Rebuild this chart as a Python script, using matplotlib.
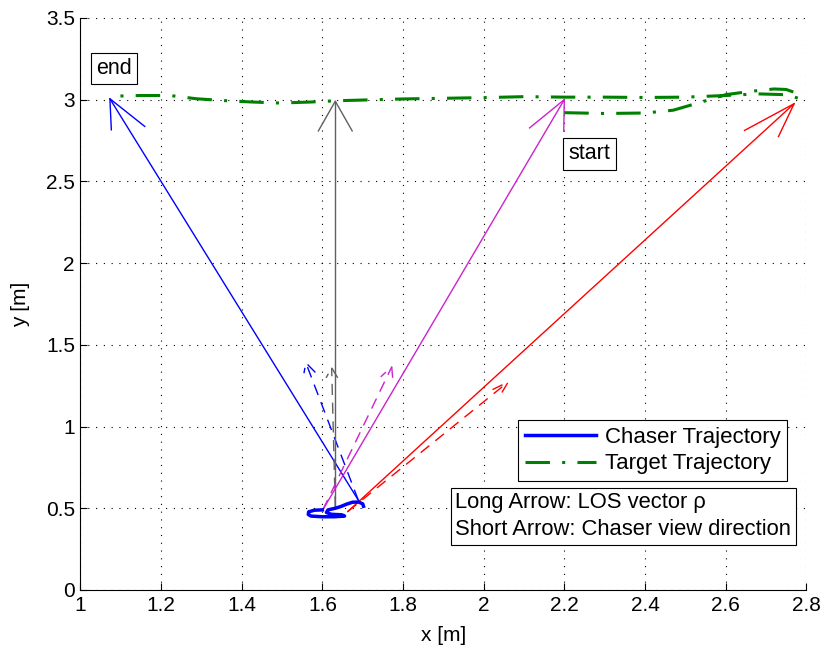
import numpy as np
import matplotlib
matplotlib.use("Agg")
import matplotlib.pyplot as plt

plt.rcParams['font.family'] = ['Liberation Sans', 'DejaVu Sans']

# Chaser trajectory
chaser_x = [1.600, 1.580, 1.566, 1.565, 1.572, 1.600, 1.630, 1.655, 1.648, 1.622, 1.610,
            1.614, 1.632, 1.645, 1.660, 1.675, 1.690, 1.700, 1.702]
chaser_y = [0.490, 0.488, 0.478, 0.462, 0.452, 0.448, 0.448, 0.452, 0.460, 0.463, 0.474,
            0.490, 0.500, 0.510, 0.525, 0.537, 0.538, 0.527, 0.512]

# Target trajectory
target_x = [2.200, 2.300, 2.400, 2.470, 2.540, 2.600, 2.660, 2.720, 2.750, 2.770, 2.785,
            2.750, 2.680, 2.600, 2.500, 2.400, 2.300, 2.200, 2.100, 2.000, 1.900, 1.800,
            1.726, 1.636, 1.569, 1.495, 1.428, 1.363, 1.288, 1.222, 1.148, 1.100, 1.075]
target_y = [2.920, 2.915, 2.918, 2.935, 2.985, 3.030, 3.050, 3.065, 3.062, 3.045, 3.005,
            3.030, 3.035, 3.025, 3.015, 3.013, 3.015, 3.015, 3.018, 3.012, 3.008, 3.004,
            2.999, 2.993, 2.985, 2.979, 2.985, 2.993, 3.005, 3.025, 3.025, 3.022, 3.020]

# Arrows: LOS (long, solid) and view direction (short, dashed)
arrow_colors = ['#0000ff', '#606060', '#cc22cc', '#ff0000']
arrow_x0 = [1.689, 1.632, 1.601, 1.663]
arrow_y0 = [0.550, 0.505, 0.490, 0.480]
los_x1 = [1.073, 1.632, 2.200, 2.770]
los_y1 = [3.005, 2.990, 3.000, 2.975]
view_x1 = [1.559, 1.623, 1.772, 2.061]
view_y1 = [1.390, 1.360, 1.365, 1.273]

xticks = [1, 1.2, 1.4, 1.6, 1.8, 2, 2.2, 2.4, 2.6, 2.8]
xtick_labels = ['1', '1.2', '1.4', '1.6', '1.8', '2', '2.2', '2.4', '2.6', '2.8']
yticks = [0, 0.5, 1, 1.5, 2, 2.5, 3, 3.5]
ytick_labels = ['0', '0.5', '1', '1.5', '2', '2.5', '3', '3.5']

fig = plt.figure(figsize=(8.21, 6.45), dpi=100)
ax = fig.add_axes([0.098, 0.0853, 0.884, 0.887])


def draw_arrow(x0, y0, x1, y1, color, ls, lw):
    dx, dy = x1 - x0, y1 - y0
    L = np.hypot(dx, dy)
    ang = np.arctan2(-dy, -dx)
    hl = 0.075 * L
    a = np.deg2rad(13)
    hx = [x1 + hl * np.cos(ang + a), x1, x1 + hl * np.cos(ang - a)]
    hy = [y1 + hl * np.sin(ang + a), y1, y1 + hl * np.sin(ang - a)]
    ax.plot([x0, x1], [y0, y1], color=color, ls=ls, lw=lw)
    ax.plot(hx, hy, color=color, ls=ls, lw=lw)


for i in range(len(arrow_colors)):
    draw_arrow(arrow_x0[i], arrow_y0[i], los_x1[i], los_y1[i], arrow_colors[i], '-', 1.0)
    draw_arrow(arrow_x0[i], arrow_y0[i], view_x1[i], view_y1[i], arrow_colors[i], (0, (8, 5.5)), 1.0)

l1, = ax.plot(chaser_x, chaser_y, color='#0000ff', lw=2.5, label='Chaser Trajectory')
l2, = ax.plot(target_x, target_y, color='#008000', lw=2.2, ls=(0, (8, 4, 1, 4)),
              label='Target Trajectory')

ax.set_xlim(1, 2.8)
ax.set_ylim(0, 3.5)
ax.set_xticks(xticks)
ax.set_xticklabels(xtick_labels)
ax.set_yticks(yticks)
ax.set_yticklabels(ytick_labels)
ax.tick_params(direction='in', labelsize=15, length=5, width=0.8, pad=4)
ax.grid(True, ls=(0, (1, 6)), color='black', lw=0.8)
ax.spines['top'].set_visible(False)
ax.spines['right'].set_visible(False)
ax.set_xlabel('x [m]', fontsize=15, labelpad=8)
ax.set_ylabel('y [m]', fontsize=15, labelpad=11)

ax.text(1.083, 3.19, 'end', fontsize=15.5, ha='center', va='center',
        bbox=dict(boxstyle='square,pad=0.25', fc='white', ec='black', lw=0.8))
ax.text(2.262, 2.668, 'start', fontsize=15.5, ha='center', va='center',
        bbox=dict(boxstyle='square,pad=0.25', fc='white', ec='black', lw=0.8))

leg = ax.legend(handles=[l1, l2], loc='upper right', bbox_to_anchor=(0.974, 0.297),
                borderaxespad=0, fontsize=16, handlelength=3.2, frameon=True,
                fancybox=False, edgecolor='black', framealpha=1, labelspacing=0.25,
                borderpad=0.3, handletextpad=0.4)
leg.get_frame().set_linewidth(0.8)

ax.text(0.748, 0.129, 'Long Arrow: LOS vector \u03c1\nShort Arrow: Chaser view direction',
        transform=ax.transAxes, fontsize=15.8, ha='center', va='center', multialignment='left',
        linespacing=1.35,
        bbox=dict(boxstyle='square,pad=0.22', fc='white', ec='black', lw=0.8), zorder=6)

fig.savefig('out.png', dpi=100)
